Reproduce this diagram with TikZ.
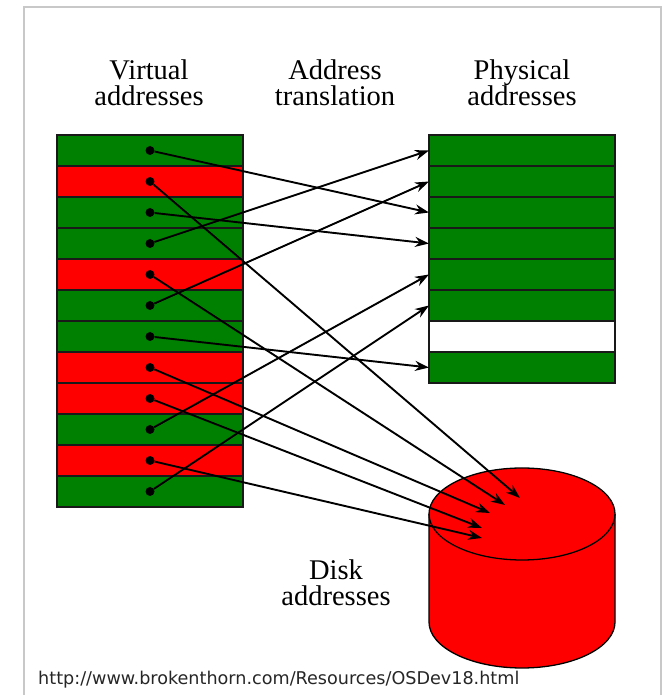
\documentclass[tikz,border=0pt]{standalone}
\usepackage{fontspec}
\setmainfont{Liberation Serif}
\newfontfamily\urlfont{DejaVu Sans}
\usetikzlibrary{arrows.meta}
\definecolor{vgreen}{RGB}{0,128,0}
\definecolor{vred}{RGB}{255,0,0}
\definecolor{frameg}{RGB}{200,200,200}
\begin{document}
\begin{tikzpicture}[x=1pt,y=1pt,
  cell/.style={draw=black!90, line width=1.1pt, minimum width=186pt, minimum height=31pt, inner sep=0pt, outer sep=0pt},
  g/.style={cell, fill=vgreen},
  r/.style={cell, fill=vred},
  w/.style={cell, fill=white},
  dot/.style={circle, fill=black, minimum size=9pt, inner sep=0pt},
  link/.style={line width=1.9pt, -{Stealth[length=14pt,width=10pt]}},
  lab/.style={font=\fontsize{28.5}{26}\selectfont, align=center, anchor=base, inner sep=0pt},
]
\useasboundingbox (0,0) rectangle (669,695);
\draw[frameg, line width=1.5pt] (24,0) -- (24,688) -- (661,688) -- (661,0);

% labels (anchor = baseline of the second line)
\node[lab] (t1) at (149,589) {Virtual\\addresses};
\node[lab] (t2) at (335,589) {Address\\translation};
\node[lab] (t3) at (522,589) {Physical\\addresses};
\node[lab] (t4) at (336,89) {Disk\\addresses};

% virtual address table
\foreach \c [count=\i from 0] in {g,r,g,g,r,g,g,r,r,g,r,g}
  \node[\c] (v\i) at (150,544.5-31*\i) {};
% physical address table
\foreach \c [count=\i from 0] in {g,g,g,g,g,g,w,g}
  \node[\c] (p\i) at (522,544.5-31*\i) {};

% disk
\path[draw=black, line width=1.3pt, fill=vred] (429,181) -- (429,73)
  arc[start angle=180, end angle=360, x radius=93, y radius=46] -- (615,181)
  arc[start angle=0, end angle=180, x radius=93, y radius=46] -- cycle;
\draw[black, line width=1.3pt] (429,181) arc[start angle=180, end angle=360, x radius=93, y radius=46];
\coordinate (k1) at (520,197);
\coordinate (k2) at (505,190);
\coordinate (k3) at (490,182);
\coordinate (k4) at (482,167);
\coordinate (k5) at (482,157);

% dots
\foreach \i in {0,...,11}
  \node[dot] (d\i) at (v\i.center) {};

% translations
\draw[link] (d0) -- (p2.west);
\draw[link] (d2) -- (p3.west);
\draw[link] (d3) -- (p0.west);
\draw[link] (d5) -- (p1.west);
\draw[link] (d6) -- (p7.west);
\draw[link] (d9) -- (p4.west);
\draw[link] (d11) -- (p5.west);
\draw[link] (d1) -- (k1);
\draw[link] (d4) -- (k2);
\draw[link] (d7) -- (k3);
\draw[link] (d8) -- (k4);
\draw[link] (d10) -- (k5);

% source
\node[anchor=base west, inner sep=0pt, text=black!85, font=\urlfont\fontsize{17.6}{20}\selectfont] (url) at (38,10) {http://www.brokenthorn.com/Resources/OSDev18.html};
\end{tikzpicture}
\end{document}
